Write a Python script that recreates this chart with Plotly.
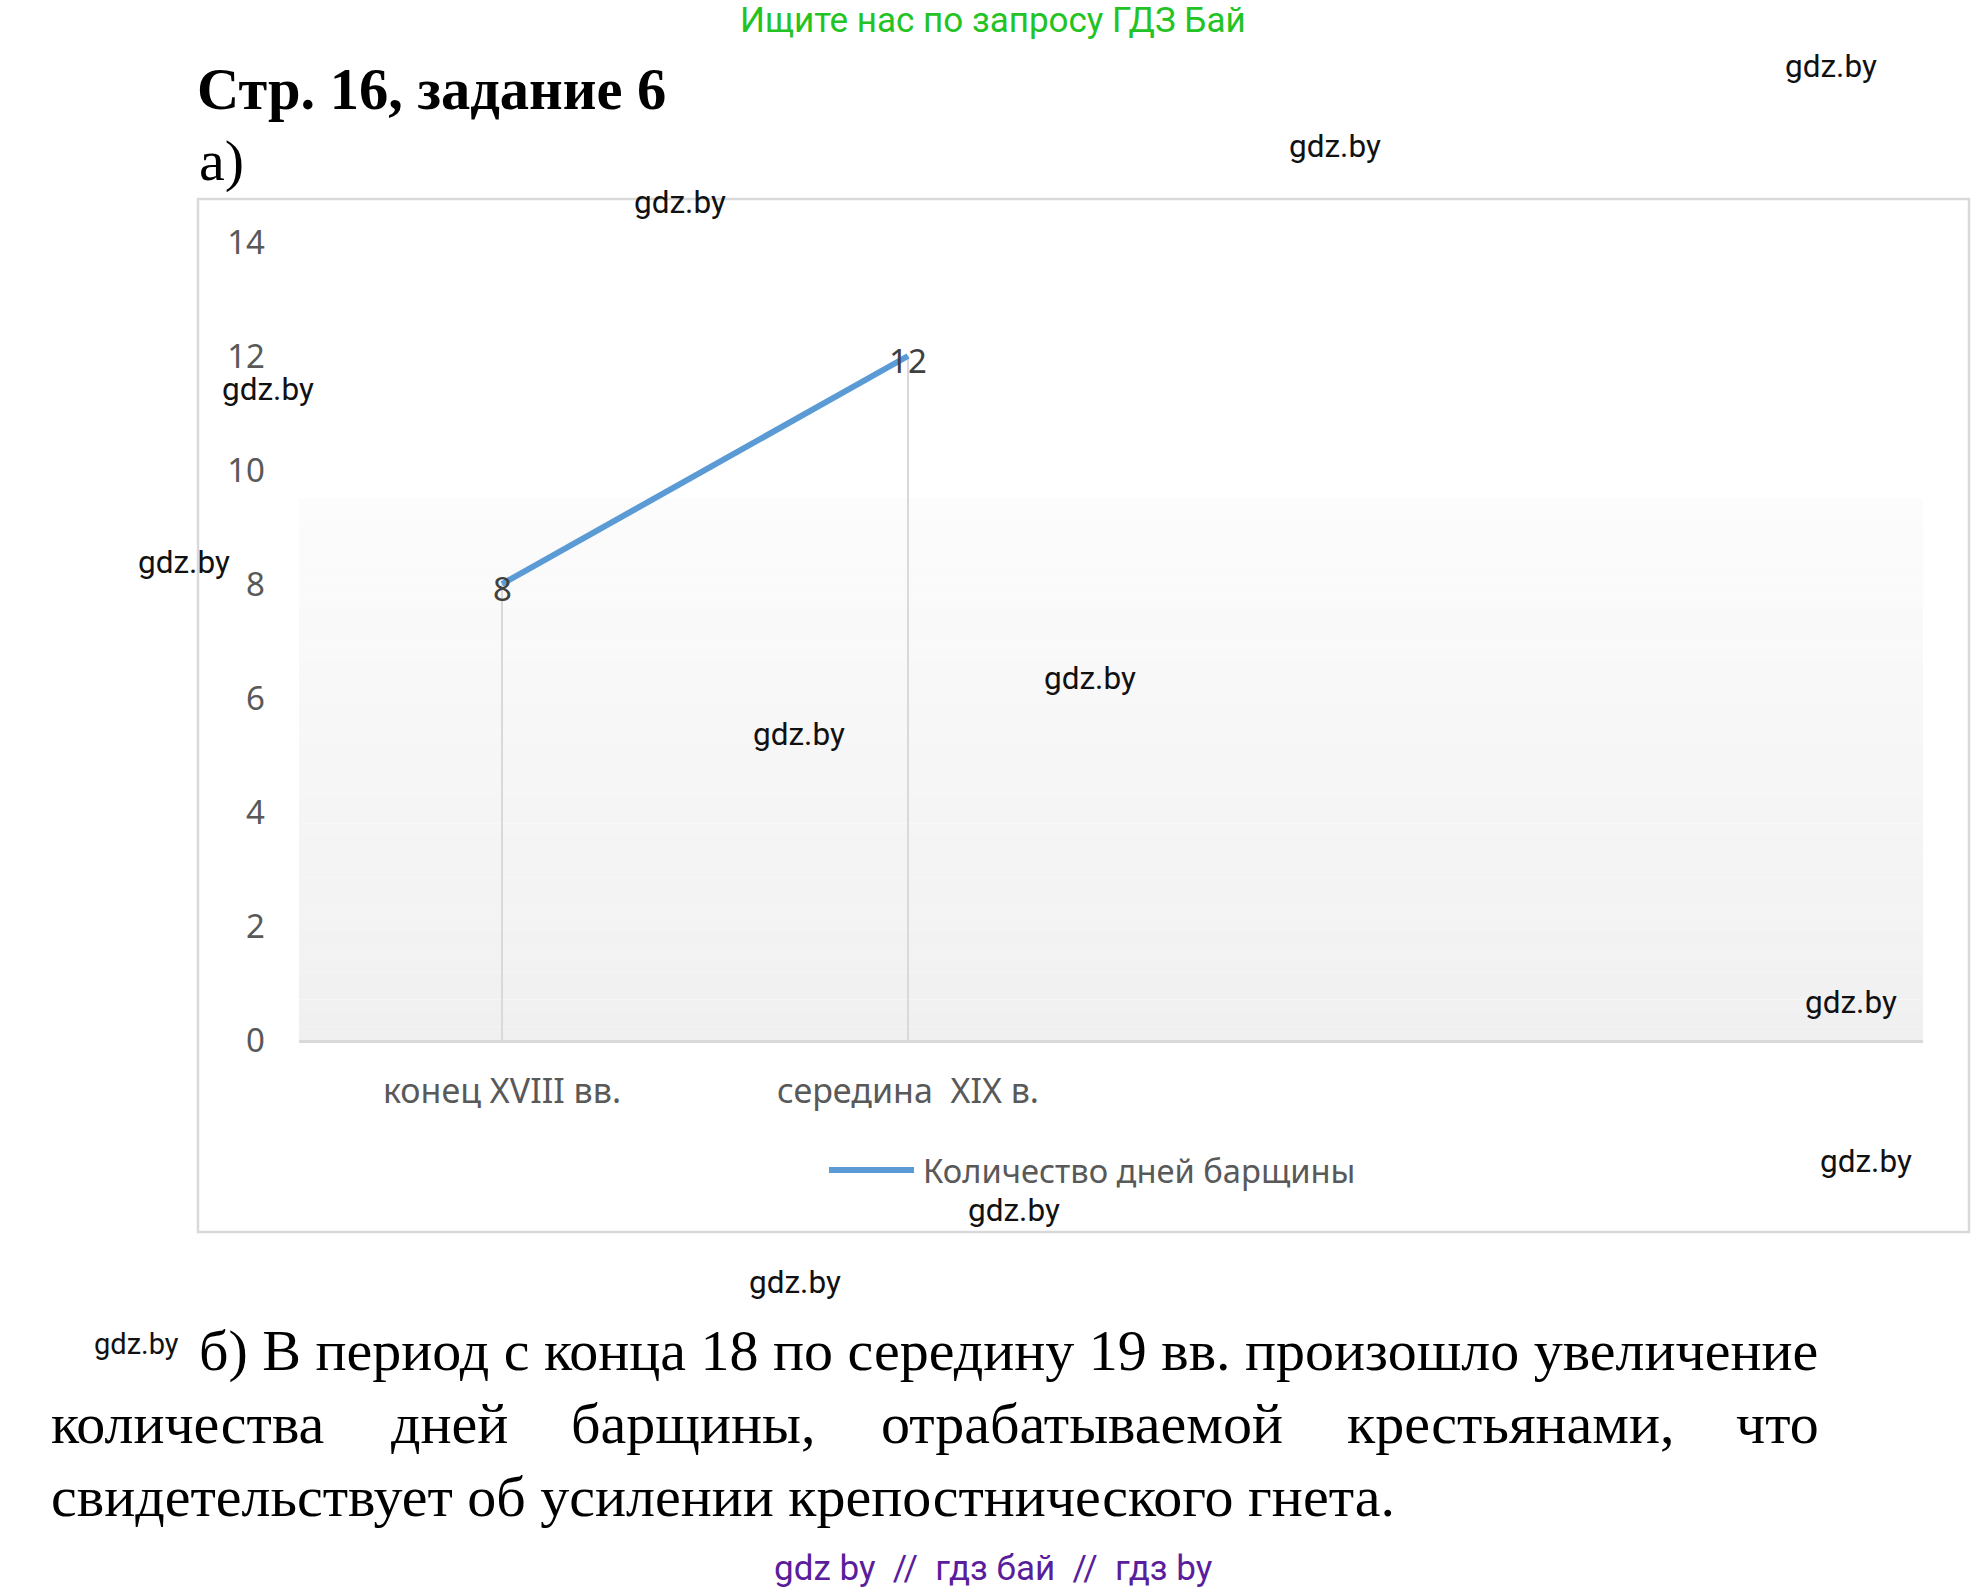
import plotly.graph_objects as go

# ---------------- data ----------------
categories = ["конец XVIII вв.", "середина\u00a0 XIX в.", " ", "  "]
days_values = [8, 12]  # values for the first two categories
series_name = "Количество дней барщины"
y_ticks = [0, 2, 4, 6, 8, 10, 12, 14]

# ---------------- geometry helpers (page pixels -> paper) ----------------
W, H = 1988, 1591
L, R, T, B = 299, 1923, 242, 1040


def px(x):
    return (x - L) / (R - L)


def py(y):
    return (B - y) / (B - T)


fig = go.Figure()

# drop lines from points to the axis
drop_x, drop_y = [], []
for c, v in zip(categories, days_values):
    drop_x += [c, c, None]
    drop_y += [0, v, None]
fig.add_trace(go.Scatter(x=drop_x, y=drop_y, mode="lines",
                         line=dict(color="#d9d9d9", width=2),
                         hoverinfo="skip", showlegend=False))

# main series
fig.add_trace(go.Scatter(
    x=categories[:len(days_values)], y=days_values, name=series_name,
    mode="lines", line=dict(color="#5b9bd5", width=6), showlegend=False))

ann = []
# data labels centred on the points
for c, v in zip(categories, days_values):
    ann.append(dict(x=c, y=v, xref="x", yref="y", text=str(v),
                    showarrow=False, xanchor="center", yanchor="middle",
                    yshift=-4,
                    font=dict(family="Noto Sans", size=33, color="#404040")))

shapes = []
# chart frame
shapes.append(dict(type="rect", xref="paper", yref="paper",
                   x0=px(198), x1=px(1969), y0=py(1232), y1=py(199),
                   line=dict(color="#d9d9d9", width=2.5), layer="below"))
# gradient plot-area fill
n = 40
top_val = 9.5
c_top, c_bot = 252, 240
for i in range(n):
    y0 = top_val * i / n
    y1 = top_val * (i + 1) / n
    t = (i + 0.5) / n
    g = round(c_bot + (c_top - c_bot) * t)
    shapes.append(dict(type="rect", xref="x domain", yref="y",
                       x0=0, x1=1, y0=y0, y1=y1,
                       fillcolor=f"rgb({g},{g},{g})", line=dict(width=0),
                       layer="below"))
# legend sample line
shapes.append(dict(type="line", xref="paper", yref="paper",
                   x0=px(829), x1=px(914), y0=py(1170), y1=py(1170),
                   line=dict(color="#5b9bd5", width=6)))


def text(x, y, s, size, color="black", family="Roboto", xanchor="center",
         bold=False):
    if bold:
        s = "<b>" + s + "</b>"
    ann.append(dict(x=px(x), y=py(y), xref="paper", yref="paper", text=s,
                    showarrow=False, xanchor=xanchor, yanchor="middle",
                    font=dict(family=family, size=size, color=color)))


serif = "Liberation Serif"
text(993, 21, "Ищите нас по запросу ГДЗ Бай", 35, "#22c322")
text(195, 89, "Стр. 16, задание 6", 58.5, "black", serif, "left", bold=True)
text(197, 160, "а)", 58, "black", serif, "left")

# legend text
text(921, 1170, series_name, 32.7, "#595959", "Noto Sans", "left")

# paragraph б)
PS = 58
text(197, 1350, "б) В период с конца 18 по середину 19 вв. произошло увеличение",
     PS, "black", serif, "left")
line2 = [("количества", 49, "left"), ("дней", 449, "center"),
         ("барщины,", 693, "center"), ("отрабатываемой", 1082, "center"),
         ("крестьянами,", 1511, "center"), ("что", 1821, "right")]
for w, x, a in line2:
    text(x, 1423, w, PS, "black", serif, a)
text(49, 1496, "свидетельствует об усилении крепостнического гнета.",
     PS, "black", serif, "left")

text(993, 1568, "gdz by \u00a0//\u00a0 гдз бай \u00a0//\u00a0 гдз by", 35,
     "#5a1e9c")

# watermarks
marks = [(1831, 66), (1335, 146), (680, 202), (268, 389), (184, 562),
         (1090, 678), (799, 734), (1851, 1002), (1866, 1161), (1014, 1210),
         (795, 1282)]
for x, y in marks:
    text(x, y, "gdz.by", 31.5, "#111111")
text(136, 1344, "gdz.by", 29, "#111111")

fig.update_layout(
    width=W, height=H, autosize=False,
    margin=dict(l=L, r=W - R, t=T, b=H - B, pad=0),
    paper_bgcolor="white", plot_bgcolor="rgba(0,0,0,0)",
    shapes=shapes, annotations=ann, showlegend=False,
    xaxis=dict(type="category", categoryorder="array",
               categoryarray=categories, range=[-0.5, len(categories) - 0.5],
               showgrid=False, zeroline=False, showline=True,
               linecolor="#d9d9d9", linewidth=3, ticks="",
               tickfont=dict(family="Noto Sans", size=34, color="#595959"),
               ticklabelstandoff=19, fixedrange=True),
    yaxis=dict(range=[0, 14], tickvals=y_ticks, showgrid=False,
               zeroline=False, showline=False, ticks="",
               tickfont=dict(family="Noto Sans", size=33, color="#595959"),
               ticklabelstandoff=33, fixedrange=True),
)

fig.write_html("out.html", config={"displayModeBar": False},
               post_script="document.body.style.margin='0';"
                           "document.body.style.overflow='hidden';")
